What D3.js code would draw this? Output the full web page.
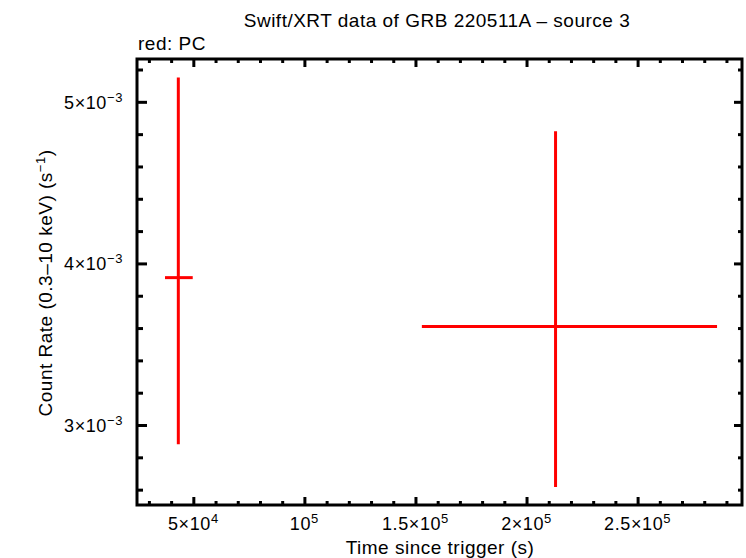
<!DOCTYPE html>
<html>
<head>
<meta charset="utf-8">
<script src="https://cdn.jsdelivr.net/npm/d3@7"></script>
<style>
  body { margin: 0; background: #fff; }
  svg text { font-family: "Liberation Sans", Arial, sans-serif; fill: #000; }
</style>
</head>
<body>
<div id="chart"></div>
<script>
// PC mode points: time, time errors, rate, rate errors
var times = [43243, 213063];
var timeLo = [37252, 152880];
var timeHi = [49730, 285766];
var rates = [0.003912, 0.003610];
var rateLo = [0.002881, 0.002617];
var rateHi = [0.005150, 0.004818];

var xMajor = [50000, 100000, 150000, 200000, 250000];
var xMajorLabels = [["5\u00d710", "4"], ["10", "5"], ["1.5\u00d710", "5"], ["2\u00d710", "5"], ["2.5\u00d710", "5"]];
var yMajor = [0.003, 0.004, 0.005];
var yMajorLabels = [["3\u00d710", "\u22123"], ["4\u00d710", "\u22123"], ["5\u00d710", "\u22123"]];

var width = 746, height = 558;
var margin = {left: 137, right: 4, top: 59, bottom: 53};

var svg = d3.select("#chart").append("svg")
    .attr("width", width)
    .attr("height", height);

var x = d3.scaleLinear()
    .domain([24640, 297000])
    .range([margin.left, width - margin.right]);

var y = d3.scaleLinear()
    .domain([0.002505, 0.005265])
    .range([height - margin.bottom, margin.top]);

var xMinor = d3.range(30000, 297000, 10000).filter(function(v){ return v % 50000 !== 0; });
var yMinor = d3.range(26, 53, 2).map(function(v){ return v / 10000; }).filter(function(v){ return Math.round(v * 10000) % 10 !== 0; });

function drawAxis(axis, transform, size, values) {
    var g = svg.append("g")
        .attr("transform", transform)
        .call(axis.tickValues(values).tickSize(size).tickFormat(""));
    g.select(".domain").remove();
    g.selectAll(".tick line").attr("stroke", "#000").attr("stroke-width", 3);
}

var bottom = height - margin.bottom, top0 = margin.top;
var left = margin.left, right = width - margin.right;

drawAxis(d3.axisBottom(x), "translate(0," + bottom + ")", -8, xMajor);
drawAxis(d3.axisBottom(x), "translate(0," + bottom + ")", -4, xMinor);
drawAxis(d3.axisTop(x), "translate(0," + top0 + ")", -8, xMajor);
drawAxis(d3.axisTop(x), "translate(0," + top0 + ")", -4, xMinor);
drawAxis(d3.axisLeft(y), "translate(" + left + ",0)", -10, yMajor);
drawAxis(d3.axisLeft(y), "translate(" + left + ",0)", -6, yMinor);
drawAxis(d3.axisRight(y), "translate(" + right + ",0)", -8, yMajor);
drawAxis(d3.axisRight(y), "translate(" + right + ",0)", -4, yMinor);

svg.append("rect")
    .attr("x", left).attr("y", top0)
    .attr("width", right - left).attr("height", bottom - top0)
    .attr("fill", "none").attr("stroke", "#000").attr("stroke-width", 3);

// tick labels with superscripts
svg.selectAll(".xlab").data(xMajor).enter().append("text")
    .attr("class", "xlab")
    .attr("x", function(d){ return x(d); })
    .attr("y", bottom + 25)
    .attr("text-anchor", "middle")
    .attr("font-size", 18)
    .attr("letter-spacing", 0.6)
    .each(function(d, i){
        var t = d3.select(this);
        t.append("tspan").text(xMajorLabels[i][0]);
        t.append("tspan").attr("dy", -7).attr("font-size", 13).text(xMajorLabels[i][1]);
    });

svg.selectAll(".ylab").data(yMajor).enter().append("text")
    .attr("class", "ylab")
    .attr("x", left - 14)
    .attr("y", function(d){ return y(d) + 7; })
    .attr("text-anchor", "end")
    .attr("font-size", 18)
    .attr("letter-spacing", 0.6)
    .each(function(d, i){
        var t = d3.select(this);
        t.append("tspan").text(yMajorLabels[i][0]);
        t.append("tspan").attr("dy", -7).attr("font-size", 13).text(yMajorLabels[i][1]);
    });

// titles
svg.append("text")
    .attr("x", 437).attr("y", 27)
    .attr("text-anchor", "middle")
    .attr("font-size", 19)
    .attr("letter-spacing", 0.5)
    .text("Swift/XRT data of GRB 220511A \u2013 source 3");

svg.append("text")
    .attr("x", 138).attr("y", 50)
    .attr("font-size", 19)
    .attr("letter-spacing", 0.5)
    .text("red: PC");

svg.append("text")
    .attr("x", 440).attr("y", 554)
    .attr("text-anchor", "middle")
    .attr("font-size", 19)
    .attr("letter-spacing", 0.5)
    .text("Time since trigger (s)");

var ylab = svg.append("text")
    .attr("transform", "translate(52,283) rotate(-90)")
    .attr("text-anchor", "middle")
    .attr("font-size", 19)
    .attr("letter-spacing", 0.5);
ylab.append("tspan").text("Count Rate (0.3\u201310 keV) (s");
ylab.append("tspan").attr("dy", -7).attr("font-size", 13).text("\u22121");
ylab.append("tspan").attr("dy", 7).text(")");

// error bars
var pts = times.map(function(t, i){
    return {t: t, tlo: timeLo[i], thi: timeHi[i], r: rates[i], rlo: rateLo[i], rhi: rateHi[i]};
});

var g = svg.append("g");
g.selectAll(".xerr").data(pts).enter().append("line")
    .attr("x1", function(d){ return x(d.tlo); })
    .attr("x2", function(d){ return x(d.thi); })
    .attr("y1", function(d){ return y(d.r); })
    .attr("y2", function(d){ return y(d.r); })
    .attr("stroke", "#ff0000").attr("stroke-width", 3);
g.selectAll(".yerr").data(pts).enter().append("line")
    .attr("x1", function(d){ return x(d.t); })
    .attr("x2", function(d){ return x(d.t); })
    .attr("y1", function(d){ return y(d.rlo); })
    .attr("y2", function(d){ return y(d.rhi); })
    .attr("stroke", "#ff0000").attr("stroke-width", 3);
</script>
</body>
</html>
